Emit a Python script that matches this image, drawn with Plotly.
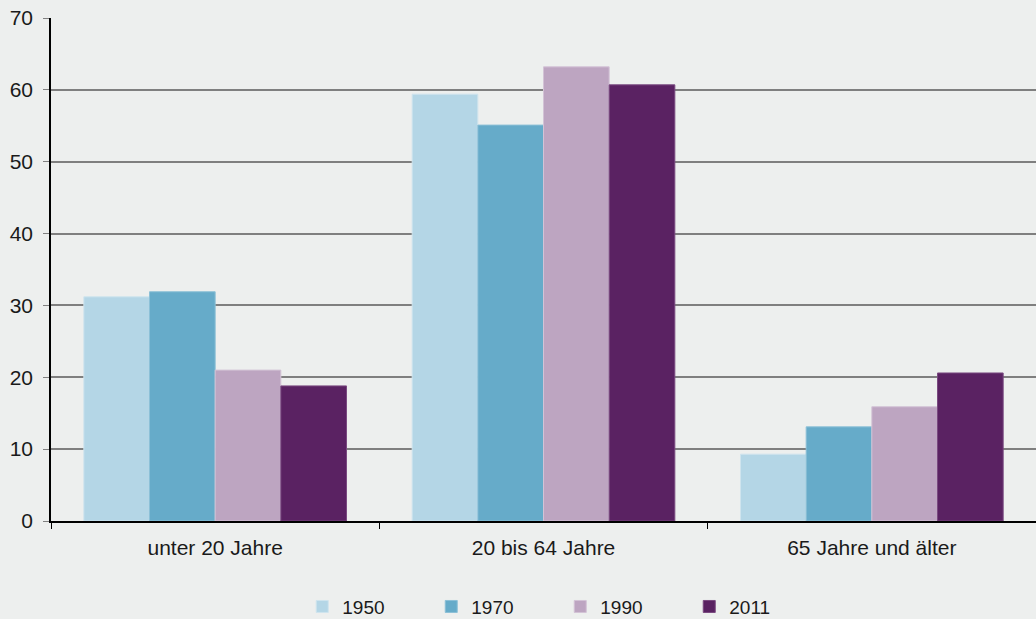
import plotly.graph_objects as go

categories = ["unter 20 Jahre", "20 bis 64 Jahre", "65 Jahre und älter"]
years = ["1950", "1970", "1990", "2011"]
v1950 = [31.2, 59.4, 9.3]
v1970 = [31.9, 55.1, 13.1]
v1990 = [21.0, 63.2, 15.9]
v2011 = [18.8, 60.7, 20.6]
series = [v1950, v1970, v1990, v2011]
colors = ["#b4d6e6", "#66abc9", "#bda5c1", "#5a2262"]
edges = ["#cfe4ee", "#8cc0d7", "#d3c3d6", "#7a4a80"]
yticks = [0, 10, 20, 30, 40, 50, 60, 70]

fig = go.Figure()
for name, vals, c, e in zip(years, series, colors, edges):
    fig.add_trace(go.Bar(x=categories, y=vals, name=name,
                         marker=dict(color=c, line=dict(color=e, width=1))))

fig.update_layout(
    width=1036, height=619,
    paper_bgcolor="#edefee", plot_bgcolor="#edefee",
    margin=dict(l=51, r=0, t=18, b=98, autoexpand=False),
    barmode="group", bargap=0.2, bargroupgap=0,
    font=dict(family="Liberation Sans, Arial, sans-serif", size=21, color="#1a1a1a"),
    legend=dict(orientation="h", x=0.517, xanchor="center",
                yref="container", y=0.02, yanchor="middle",
                entrywidth=84, font=dict(size=19), itemwidth=30,
                traceorder="normal"),
    showlegend=True,
)
fig.update_xaxes(showline=True, linecolor="#000000", linewidth=1.5,
                 ticks="outside", tickson="boundaries", ticklen=6, tickcolor="#000000",
                 showgrid=False, ticklabelstandoff=7, automargin=False)
fig.update_yaxes(range=[0, 70], tickvals=yticks, showline=True, linecolor="#000000",
                 linewidth=1.5, ticks="outside", ticklen=6, tickcolor="#808080",
                 showgrid=True, gridcolor="#7f7f7f", gridwidth=2, zeroline=False,
                 ticklabelstandoff=6, automargin=False)

fig.write_html("out.html", config={"displayModeBar": False},
               post_script="document.body.style.margin='0';document.body.style.padding='0';")
